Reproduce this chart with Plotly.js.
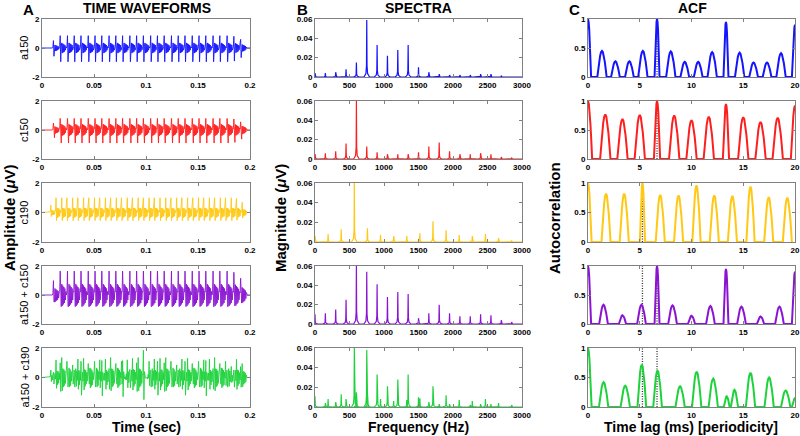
<!DOCTYPE html>
<html><head><meta charset="utf-8">
<script src="https://cdn.plot.ly/plotly-3.0.1.min.js"></script>
<style>html,body{margin:0;padding:0;background:#fff}#chart{width:800px;height:436px}</style>
</head><body><div id="chart"></div>
<script>
// ================= DATA =================
const rowNames = ['a150', 'c150', 'c190', 'a150 + c150', 'a150 + c190'];
const rowColors = ['#1414ff', '#ff1e1e', '#ffc814', '#8a14d2', '#1ed23c'];

// --- Time waveforms (pulse trains) ---
const tStep = 0.0005;      // sampling step (s)
const tEnd = 0.2;
// one pulse (ringing) per glottal period, 0.5 ms samples
const a150Template = [0.1, 0.85, -0.95, 0.1, 0.35, -0.35, 0.3, -0.3, 0.25, -0.25, 0.2, -0.15, 0.1];
const c150Template = [0.1, 0.8, 0.15, -0.9, 0.4, -0.4, 0.35, -0.35, 0.3, -0.3, 0.25, -0.2, 0.15];
const c190Template = [0.1, 1.0, -0.55, 0.3, -0.35, 0.3, -0.3, 0.25, -0.25, 0.15];
const a150Onset = 0.0105, a150Period = 0.00667;
const c150Onset = 0.0105, c150Period = 0.00667;
const c190Onset = 0.0078, c190Period = 0.00526;
const a150Gains = [0.6, 1, 1, 1, 1, 1, 1, 1, 1, 1, 1, 1, 1, 1, 1, 1, 1, 1, 1, 1, 1, 1, 1, 1, 1, 1, 0.95, 0.7];
const c150Gains = [0.6, 1, 1, 1, 1, 1, 1, 1, 1, 1, 1, 1, 1, 1, 1, 1, 1, 1, 1, 1, 1, 1, 1, 1, 1, 1, 0.95, 0.7];
const c190Gains = [0.5, 1, 1, 1, 1, 1, 1, 1, 1, 1, 1, 1, 1, 1, 1, 1, 1, 1, 1, 1, 1, 1, 1, 1, 1, 1, 1, 1, 1, 1, 1, 1, 1, 1, 0.95, 0.7];

// --- Spectra: harmonic frequencies (Hz) and magnitudes (uV) ---
const specA150_f = [0, 150, 300, 450, 600, 750, 900, 1050, 1200, 1350, 1500, 1650, 1800, 1950, 2100, 2250, 2400, 2550, 2700, 2850];
const specA150_h = [0.004, 0.004, 0.005, 0.008, 0.015, 0.059, 0.033, 0.022, 0.028, 0.033, 0.010, 0.005, 0.003, 0.002, 0.002, 0.002, 0.003, 0.003, 0.001, 0.0005];
const specC150_f = [0, 150, 300, 450, 600, 750, 900, 1050, 1200, 1350, 1500, 1650, 1800, 1950, 2100, 2250, 2400, 2550, 2700, 2850];
const specC150_h = [0.005, 0.006, 0.008, 0.016, 0.060, 0.013, 0.007, 0.005, 0.005, 0.005, 0.007, 0.013, 0.017, 0.008, 0.005, 0.005, 0.006, 0.005, 0.002, 0.001];
const specC190_f = [0, 190, 380, 570, 760, 950, 1140, 1330, 1520, 1710, 1900, 2090, 2280, 2470, 2660, 2850];
const specC190_h = [0.006, 0.008, 0.013, 0.060, 0.014, 0.007, 0.006, 0.006, 0.009, 0.021, 0.012, 0.007, 0.006, 0.008, 0.004, 0.001];
const specAC150_f = [0, 150, 300, 450, 600, 750, 900, 1050, 1200, 1350, 1500, 1650, 1800, 1950, 2100, 2250, 2400, 2550, 2700, 2850];
const specAC150_h = [0.010, 0.011, 0.015, 0.025, 0.060, 0.054, 0.041, 0.028, 0.033, 0.031, 0.006, 0.011, 0.020, 0.011, 0.008, 0.008, 0.010, 0.009, 0.004, 0.002];
const specAC190_f = [0, 150, 190, 300, 380, 450, 570, 600, 750, 760, 900, 950, 1050, 1140, 1200, 1330, 1350, 1500, 1520, 1650, 1710, 1800, 1900, 1950, 2090, 2250, 2280, 2400, 2470, 2550, 2660, 2850];
const specAC190_h = [0.011, 0.004, 0.008, 0.005, 0.013, 0.008, 0.060, 0.015, 0.058, 0.014, 0.033, 0.008, 0.021, 0.006, 0.028, 0.007, 0.033, 0.010, 0.009, 0.005, 0.021, 0.003, 0.012, 0.003, 0.007, 0.002, 0.006, 0.003, 0.008, 0.003, 0.004, 0.002];
// spike shape: offsets (Hz) and relative heights
const spikeOffsets = [-40, -12, -4, 0, 4, 12, 40];
const spikeShape = [0, 0.06, 0.2, 1, 0.2, 0.06, 0];

// --- ACF: peak lags (ms), heights, half-widths (ms) ---
const acfA150_lag = [0, 1.35, 2.65, 4.0, 5.3, 6.67, 8.0, 9.35, 10.65, 12.0, 13.33, 14.65, 16.0, 17.3, 18.65, 20];
const acfA150_h = [1, 0.45, 0.27, 0.27, 0.45, 1.0, 0.44, 0.26, 0.26, 0.43, 0.95, 0.42, 0.25, 0.25, 0.41, 0.9];
const acfA150_w = [0.3, 0.45, 0.42, 0.42, 0.45, 0.24, 0.45, 0.42, 0.42, 0.45, 0.24, 0.45, 0.42, 0.42, 0.45, 0.3];
const acfC150_lag = [0, 1.67, 3.33, 5.0, 6.67, 8.33, 10.0, 11.67, 13.33, 15.0, 16.67, 18.33, 20];
const acfC150_h = [1, 0.77, 0.69, 0.76, 1.0, 0.75, 0.67, 0.73, 0.95, 0.72, 0.64, 0.71, 0.92];
const acfC150_w = [0.4, 0.5, 0.5, 0.5, 0.3, 0.5, 0.5, 0.5, 0.3, 0.5, 0.5, 0.5, 0.4];
const acfC190_lag = [0, 1.74, 3.5, 5.26, 6.98, 8.75, 10.48, 12.2, 13.95, 15.7, 17.46, 19.26];
const acfC190_h = [1, 0.82, 0.82, 1.0, 0.80, 0.79, 0.96, 0.79, 0.78, 0.94, 0.76, 0.75];
const acfC190_w = [0.35, 0.44, 0.44, 0.25, 0.44, 0.44, 0.4, 0.44, 0.44, 0.4, 0.44, 0.44];
const acfAC150_lag = [0, 1.5, 3.33, 5.17, 6.67, 8.17, 10.0, 11.83, 13.33, 14.83, 16.67, 18.5, 20];
const acfAC150_h = [1, 0.33, 0.15, 0.33, 1.0, 0.32, 0.14, 0.31, 0.95, 0.3, 0.13, 0.3, 0.9];
const acfAC150_w = [0.3, 0.42, 0.35, 0.42, 0.24, 0.42, 0.35, 0.42, 0.24, 0.42, 0.35, 0.42, 0.3];
const acfAC190_lag = [0, 1.51, 3.6, 5.2, 6.72, 8.9, 10.5, 12.1, 13.4, 14.15, 15.7, 17.5, 19.1, 20];
const acfAC190_h = [1, 0.42, 0.36, 0.72, 0.62, 0.35, 0.6, 0.48, 0.18, 0.29, 0.58, 0.5, 0.28, 0.15];
const acfAC190_w = [0.35, 0.45, 0.45, 0.42, 0.42, 0.45, 0.45, 0.45, 0.28, 0.35, 0.45, 0.45, 0.45, 0.3];
const humpOffsets = [-1, -0.8, -0.6, -0.4, -0.2, 0, 0.2, 0.4, 0.6, 0.8, 1];
const humpShape = [0, 0.31, 0.59, 0.81, 0.95, 1, 0.95, 0.81, 0.59, 0.31, 0];
// periodicity markers (ms)
const acfMarks = [[6.67], [6.67], [5.26], [5.26, 6.67], [5.26, 6.67]];

// tick labels
const timeTicks = [0, 0.05, 0.1, 0.15, 0.2];
const ampTicks = [-2, 0, 2];
const ampTickText = ['-2', '0', '2'];
const freqTicks = [0, 500, 1000, 1500, 2000, 2500, 3000];
const magTicks = [0, 0.02, 0.04, 0.06];
const lagTicks = [0, 5, 10, 15, 20];
const acfTicks = [0, 0.5, 1];

// ================= BUILD =================
const nT = Math.round(tEnd / tStep) + 1;
const tGrid = [];
for (let i = 0; i < nT; i++) tGrid.push(+(i * tStep).toFixed(5));

function pulseTrain(template, onset, period, gains) {
  const y = new Array(nT).fill(0);
  gains.forEach((g, k) => {
    const i0 = Math.round((onset + k * period) / tStep);
    template.forEach((v, j) => { if (i0 + j < nT) y[i0 + j] += g * v; });
  });
  return y;
}
const wA150 = pulseTrain(a150Template, a150Onset, a150Period, a150Gains);
const wC150 = pulseTrain(c150Template, c150Onset, c150Period, c150Gains);
const wC190 = pulseTrain(c190Template, c190Onset, c190Period, c190Gains);
const wAC150 = wA150.map((v, i) => v + wC150[i]);
const wAC190 = wA150.map((v, i) => v + wC190[i]);
const waves = [wA150, wC150, wC190, wAC150, wAC190];

function spectrum(fs, hs) {
  const x = [], y = [];
  fs.forEach((f, k) => {
    spikeOffsets.forEach((o, j) => { x.push(f + o); y.push(hs[k] * spikeShape[j]); });
  });
  x.push(3000); y.push(0);
  return {x, y};
}
const spectra = [
  spectrum(specA150_f, specA150_h), spectrum(specC150_f, specC150_h), spectrum(specC190_f, specC190_h),
  spectrum(specAC150_f, specAC150_h), spectrum(specAC190_f, specAC190_h)];

function acf(lags, hs, ws) {
  const x = [], y = [];
  lags.forEach((l, k) => {
    humpOffsets.forEach((o, j) => { x.push(l + o * ws[k]); y.push(hs[k] * humpShape[j]); });
  });
  return {x, y};
}
const acfs = [
  acf(acfA150_lag, acfA150_h, acfA150_w), acf(acfC150_lag, acfC150_h, acfC150_w), acf(acfC190_lag, acfC190_h, acfC190_w),
  acf(acfAC150_lag, acfAC150_h, acfAC150_w), acf(acfAC190_lag, acfAC190_h, acfAC190_w)];

const W = 800, H = 436;
const colDom = [[42 / W, 250 / W], [315 / W, 522 / W], [588 / W, 795 / W]];
const rowPx = [[19, 77], [101, 159], [183, 242], [266, 324], [348, 407]];
const rowDom = rowPx.map(r => [1 - r[1] / H, 1 - r[0] / H]);

const traces = [];
const layout = {
  width: W, height: H, margin: {l: 0, r: 0, t: 0, b: 0},
  paper_bgcolor: '#fff', plot_bgcolor: '#fff', showlegend: false,
  font: {family: 'Liberation Sans, Arial, sans-serif', color: '#000'},
  annotations: []
};
const tickFont = {family: 'Liberation Sans, Arial, sans-serif', size: 8, color: '#000', weight: 'bold'};
function axBase() {
  return {showline: true, mirror: 'ticks', linecolor: '#808080', linewidth: 1, ticks: 'inside', ticklen: 3,
    tickcolor: '#808080', showgrid: false, zeroline: false, tickfont: tickFont, fixedrange: true};
}

for (let r = 0; r < 5; r++) {
  for (let c = 0; c < 3; c++) {
    const n = r * 3 + c + 1;
    const xa = 'x' + n, ya = 'y' + n;
    const xk = 'xaxis' + (n === 1 ? '' : n), yk = 'yaxis' + (n === 1 ? '' : n);
    const xax = axBase(), yax = axBase();
    xax.domain = colDom[c]; xax.anchor = ya;
    yax.domain = rowDom[r]; yax.anchor = xa;
    if (c === 0) {
      xax.range = [0, 0.2]; xax.tickvals = timeTicks;
      yax.range = [-2, 2]; yax.tickvals = ampTicks; yax.ticktext = ampTickText;
      traces.push({x: tGrid, y: waves[r], xaxis: xa, yaxis: ya, type: 'scatter', mode: 'lines',
        line: {color: rowColors[r], width: 0.9}, hoverinfo: 'skip'});
    } else if (c === 1) {
      xax.range = [0, 3000]; xax.tickvals = freqTicks;
      yax.range = [0, 0.06]; yax.tickvals = magTicks;
      traces.push({x: spectra[r].x, y: spectra[r].y, xaxis: xa, yaxis: ya, type: 'scatter', mode: 'lines',
        line: {color: rowColors[r], width: 1.2}, hoverinfo: 'skip'});
    } else {
      xax.range = [0, 20]; xax.tickvals = lagTicks;
      yax.range = [0, 1]; yax.tickvals = acfTicks;
      const mx = [], my = [];
      acfMarks[r].forEach(m => { mx.push(m, m, null); my.push(0, 1, null); });
      traces.push({x: mx, y: my, xaxis: xa, yaxis: ya, type: 'scatter', mode: 'lines',
        line: {color: '#333', width: 1.3, dash: '1px,1.5px'}, hoverinfo: 'skip'});
      traces.push({x: acfs[r].x, y: acfs[r].y, xaxis: xa, yaxis: ya, type: 'scatter', mode: 'lines',
        line: {color: rowColors[r], width: 2}, hoverinfo: 'skip'});
    }
    layout[xk] = xax; layout[yk] = yax;
  }
  // row label
  const yc = 1 - (rowPx[r][0] + rowPx[r][1]) / 2 / H;
  layout.annotations.push({text: rowNames[r], xref: 'paper', yref: 'paper', x: 24 / W, y: yc,
    xanchor: 'center', yanchor: 'middle', textangle: -90, showarrow: false,
    font: {size: 11, color: '#000', family: 'Liberation Sans, Arial, sans-serif'}});
}

function ann(text, xpx, ypx, size, angle, yanchor) {
  layout.annotations.push({text: text, xref: 'paper', yref: 'paper', x: xpx / W, y: 1 - ypx / H,
    xanchor: 'center', yanchor: yanchor || 'middle', textangle: angle || 0, showarrow: false, borderpad: 0,
    font: {size: size, color: '#000', family: 'Liberation Sans, Arial, sans-serif', weight: 'bold'}});
}
ann('A', 29, 0, 15, 0, 'top'); ann('TIME WAVEFORMS', 147, 8, 14);
ann('B', 302, 0, 15, 0, 'top'); ann('SPECTRA', 418, 8, 14);
ann('C', 574, 0, 15, 0, 'top'); ann('ACF', 692, 8, 14);
ann('Amplitude (<i>μ</i>V)', 9, 218, 15, -90);
ann('Magnitude (<i>μ</i>V)', 280, 218, 15, -90);
ann('Autocorrelation', 554, 218, 15, -90);
ann('Time (sec)', 146, 436, 14, 0, 'bottom');
ann('Frequency (Hz)', 418, 436, 14, 0, 'bottom');
ann('Time lag (ms) [periodicity]', 691, 436, 14, 0, 'bottom');

Plotly.newPlot('chart', traces, layout, {staticPlot: true, displayModeBar: false});
</script>
</body></html>
